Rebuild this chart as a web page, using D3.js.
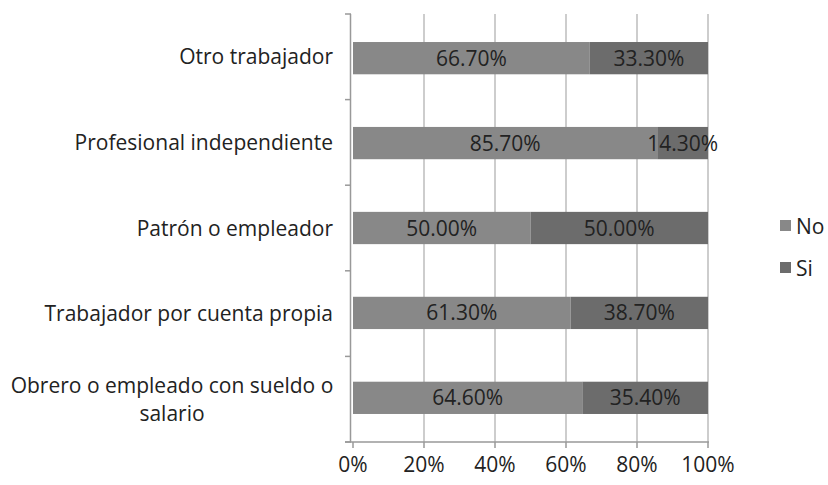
<!DOCTYPE html>
<html>
<head>
<meta charset="utf-8">
<script src="https://cdn.jsdelivr.net/npm/d3@7"></script>
<style>
  body { margin: 0; background: #fff; }
  text { font-family: "Open Sans", sans-serif; fill: #222; }
</style>
</head>
<body>
<div id="chart"></div>
<script>
var categories = ["Otro trabajador", "Profesional independiente", "Patrón o empleador",
                  "Trabajador por cuenta propia", "Obrero o empleado con sueldo o salario"];
var labelLines = [["Otro trabajador"], ["Profesional independiente"], ["Patrón o empleador"],
                  ["Trabajador por cuenta propia"], ["Obrero o empleado con sueldo o", "salario"]];
var seriesNames = ["No", "Si"];
var noValues = [66.7, 85.7, 50.0, 61.3, 64.6];
var siValues = [33.3, 14.3, 50.0, 38.7, 35.4];
var xTicks = [0, 20, 40, 60, 80, 100];

var width = 828, height = 485;
var colors = { No: "#888888", Si: "#6c6c6c" };
var fontSize = "21px";

var svg = d3.select("#chart").append("svg")
    .attr("width", width)
    .attr("height", height);

var x = d3.scaleLinear().domain([0, 100]).range([353, 708]);
var y = d3.scaleBand().domain(categories).range([14, 442]).paddingInner(0.62).paddingOuter(0.33);
var yOuter = d3.scaleBand().domain(categories).range([14, 442]);

// gridlines
svg.append("g").selectAll("line")
    .data(xTicks.slice(1))
    .enter().append("line")
    .attr("x1", d => x(d)).attr("x2", d => x(d))
    .attr("y1", 14).attr("y2", 442)
    .attr("stroke", "#bcbcbc").attr("stroke-width", 1.5);

// bars
var rows = categories.map((c, i) => ({ cat: c, No: noValues[i], Si: siValues[i] }));
var stacked = d3.stack().keys(seriesNames)(rows);

svg.append("g").selectAll("g")
    .data(stacked)
    .enter().append("g")
    .attr("fill", d => colors[d.key])
    .selectAll("rect")
    .data(d => d)
    .enter().append("rect")
    .attr("x", d => x(d[0]))
    .attr("width", d => x(d[1]) - x(d[0]))
    .attr("y", d => y(d.data.cat))
    .attr("height", y.bandwidth());

// value labels
stacked.forEach(s => {
  svg.append("g").selectAll("text")
      .data(s)
      .enter().append("text")
      .attr("x", d => x((d[0] + d[1]) / 2))
      .attr("y", d => y(d.data.cat) + y.bandwidth() / 2)
      .attr("dy", "0.36em")
      .attr("text-anchor", "middle")
      .style("font-size", fontSize)
      .text(d => (d[1] - d[0]).toFixed(2) + "%");
});

// y axis
var yAxis = svg.append("g");
yAxis.append("line")
    .attr("x1", 350.5).attr("x2", 350.5).attr("y1", 14).attr("y2", 442)
    .attr("stroke", "#999").attr("stroke-width", 1.5);
yAxis.selectAll(".tk")
    .data(categories.map(c => yOuter(c)).concat([442]))
    .enter().append("line")
    .attr("x1", 345).attr("x2", 351)
    .attr("y1", d => d).attr("y2", d => d)
    .attr("stroke", "#999").attr("stroke-width", 1.5);

yAxis.selectAll("text")
    .data(categories)
    .enter().append("text")
    .attr("transform", (d, i) => {
      var lines = labelLines[i].length;
      var cy = yOuter(d) + yOuter.bandwidth() / 2 - (lines - 1) * 14;
      return "translate(" + (lines > 1 ? 172 : 333) + "," + cy + ")";
    })
    .attr("text-anchor", (d, i) => labelLines[i].length > 1 ? "middle" : "end")
    .style("font-size", fontSize)
    .each(function(d, i) {
      var t = d3.select(this);
      labelLines[i].forEach((ln, j) => {
        t.append("tspan")
          .attr("x", 0)
          .attr("dy", j === 0 ? "0.36em" : "1.35em")
          .text(ln);
      });
    });

// x axis
var xAxis = svg.append("g");
xAxis.append("line")
    .attr("x1", 345).attr("x2", 709).attr("y1", 442).attr("y2", 442)
    .attr("stroke", "#999").attr("stroke-width", 1.5);
xAxis.selectAll(".tk")
    .data(xTicks)
    .enter().append("line")
    .attr("x1", d => x(d)).attr("x2", d => x(d))
    .attr("y1", 442).attr("y2", 448)
    .attr("stroke", "#999").attr("stroke-width", 1.5);
xAxis.selectAll("text")
    .data(xTicks)
    .enter().append("text")
    .attr("x", d => x(d))
    .attr("y", 472)
    .attr("text-anchor", "middle")
    .style("font-size", fontSize)
    .text(d => d + "%");

// legend
var legend = svg.append("g").selectAll("g")
    .data(seriesNames)
    .enter().append("g")
    .attr("transform", (d, i) => "translate(780," + (220 + i * 42) + ")");
legend.append("rect")
    .attr("width", 11).attr("height", 11)
    .attr("fill", d => colors[d]);
legend.append("text")
    .attr("x", 16).attr("y", 6)
    .attr("dy", "0.36em")
    .style("font-size", fontSize)
    .text(d => d);
</script>
</body>
</html>
